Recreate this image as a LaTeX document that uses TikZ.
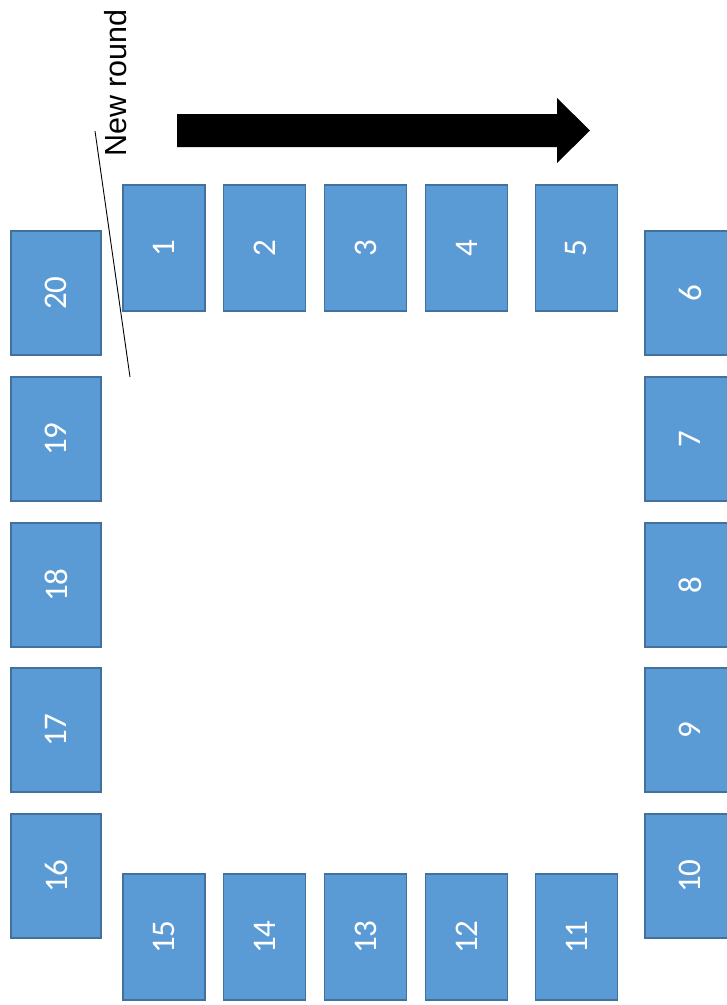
\documentclass[tikz,border=0pt]{standalone}
\usepackage{fontspec}
\setmainfont{Carlito}
\newfontfamily\labelfont{Liberation Sans}
\definecolor{boxfill}{HTML}{5B9BD5}
\definecolor{boxline}{HTML}{41719C}
\begin{document}
\begin{tikzpicture}[x=1pt,y=-1pt,
  seat/.style={draw=boxline,fill=boxfill,line width=1.5pt,rotate=90,
    text=white,font=\fontsize{33}{33}\selectfont,inner sep=0pt,anchor=center},
  rowseat/.style={seat,minimum width=126pt,minimum height=82pt},
  colseat/.style={seat,minimum width=124pt,minimum height=90pt}]
\useasboundingbox (0,0) rectangle (727,1005);
\clip (0,0) rectangle (727,1005);
% top row
\node[rowseat] (s1) at (164,248) {1};
\node[rowseat] (s2) at (264.5,248) {2};
\node[rowseat] (s3) at (365.5,248) {3};
\node[rowseat] (s4) at (466.5,248) {4};
\node[rowseat] (s5) at (576.5,248) {5};
% right column
\node[colseat] (s6) at (690,293) {6};
\node[colseat] (s7) at (690,439) {7};
\node[colseat] (s8) at (690,585) {8};
\node[colseat] (s9) at (690,730) {9};
\node[colseat] (s10) at (690,876) {10};
% bottom row
\node[rowseat] (s11) at (576.5,937) {11};
\node[rowseat] (s12) at (466.5,937) {12};
\node[rowseat] (s13) at (365.5,937) {13};
\node[rowseat] (s14) at (264.5,937) {14};
\node[rowseat] (s15) at (164,937) {15};
% left column
\node[colseat] (s16) at (56,876) {16};
\node[colseat] (s17) at (56,730) {17};
\node[colseat] (s18) at (56,585) {18};
\node[colseat] (s19) at (56,439) {19};
\node[colseat] (s20) at (56,293) {20};
% direction arrow
\fill[black] (177,114) -- (557,114) -- (557,98) -- (590,130.5) -- (557,163) -- (557,147) -- (177,147) -- cycle;
% label
\node[rotate=90,font=\labelfont\fontsize{30.5}{30.5}\selectfont,inner sep=0pt] (lbl) at (116,83) {New round};
\coordinate (la) at (95,131);
\coordinate (lb) at (130,377);
\draw[line width=0.9pt] (la) -- (lb);
\end{tikzpicture}
\end{document}
